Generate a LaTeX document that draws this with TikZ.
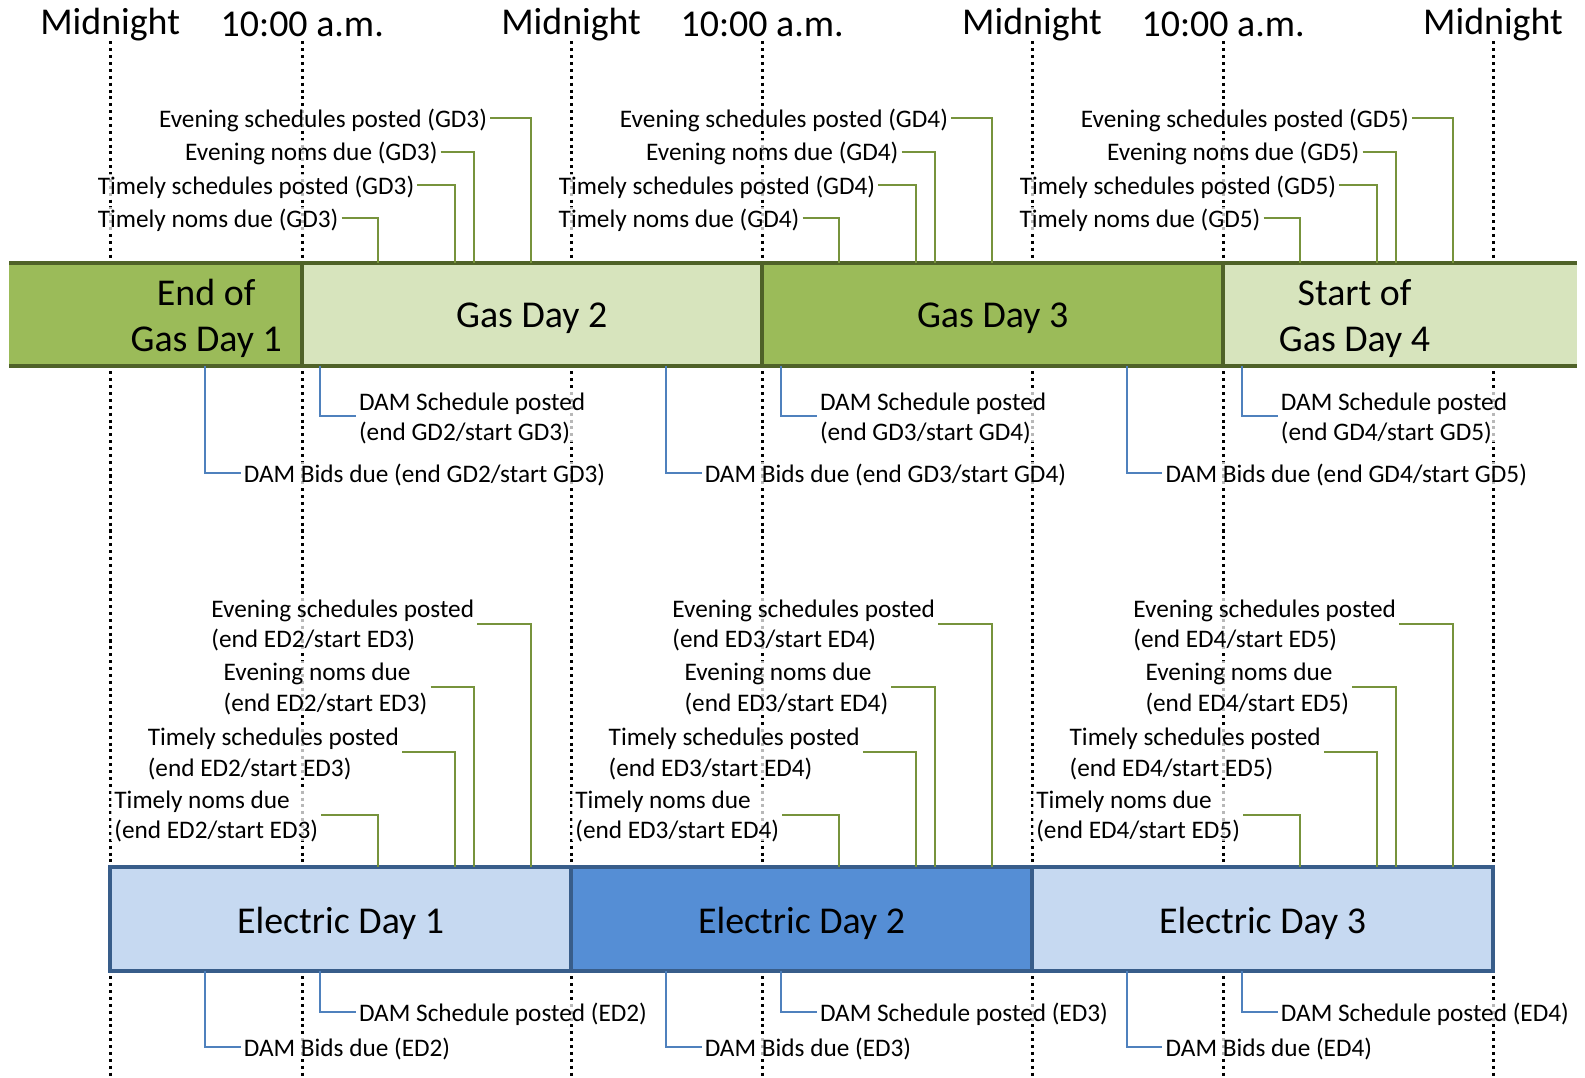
\documentclass[tikz,border=0pt]{standalone}
\usepackage{fontspec}
\setmainfont{Carlito}
\definecolor{gasdark}{HTML}{9BBB59}
\definecolor{gaslight}{HTML}{D7E4BD}
\definecolor{gasedge}{HTML}{4F6228}
\definecolor{gasline}{HTML}{77933C}
\definecolor{elight}{HTML}{C6D9F1}
\definecolor{emid}{HTML}{558ED5}
\definecolor{eedge}{HTML}{385D8A}
\definecolor{damline}{HTML}{4F81BD}

\begin{document}
\begin{tikzpicture}[x=1pt,y=-1pt,
    lbl/.style={font=\fontsize{25}{30}\selectfont, inner ysep=2pt, inner xsep=3pt,
        text depth=0pt, fill=white, fill opacity=.72, text opacity=1, align=left},
    hdr/.style={font=\fontsize{37.5}{45}\selectfont, inner sep=1pt},
    day/.style={font=\fontsize{37.5}{45}\selectfont, align=center},
    gline/.style={gasline, line width=2pt},
    bline/.style={damline, line width=2pt},
    tick/.style={dash pattern=on 3pt off 3.8pt, line width=3pt}]
\useasboundingbox (0,0) rectangle (1568,1066);

% time axis
\foreach \t/\lab [count=\i] in {109/Midnight,299/10:00 a.m.,565/Midnight,754/10:00 a.m.,
    1021/Midnight,1210/10:00 a.m.,1477/Midnight} {
  \node[hdr] (hd\i) at (\t,24) {\lab};
  \draw[tick] (\t,41) -- (\t,1066);
}

% gas days
\fill[gasdark] (9,260) rectangle (299,362);
\fill[gaslight] (299,260) rectangle (754,362);
\fill[gasdark] (754,260) rectangle (1210,362);
\fill[gaslight] (1210,260) rectangle (1560,362);
\draw[gasedge, line width=4pt] (9,260) -- (1560,260) (9,362) -- (1560,362);
\foreach \x in {299,754,1210} \draw[gasedge, line width=4pt] (\x,260) -- (\x,362);
\node[day] (gd1) at (204,315) {End of\\Gas Day 1};
\node[day] (gd2) at (526,315) {Gas Day 2};
\node[day] (gd3) at (982,315) {Gas Day 3};
\node[day] (gd4) at (1340,315) {Start of\\Gas Day 4};

% electric days
\foreach \x/\c [count=\n] in {109/elight,565/emid,1021/elight} {
  \draw[eedge, line width=4pt, fill=\c] (\x,858) rectangle ++(456,103);
  \node[day] (ed\n) at (\x+228,913) {Electric Day \n};
}

% deadlines
\foreach \k/\ea/\eb in {0/2/3,1/3/4,2/4/5} {
  \pgfmathsetmacro\o{456*\k}
  % gas nominations
  \foreach \n/\ex/\tx/\y/\txt in {esp/485/525/117/Evening schedules posted,
      enm/436/469/150/Evening noms due, tsp/413/450/183/Timely schedules posted,
      tnm/338/374/216/Timely noms due} {
    \node[lbl, anchor=east] (\n\k) at (\o+\ex,\y) {\txt\ (GD\eb)};
    \coordinate (\n\k-bar) at (\o+\tx,260);
    \draw[gline] (\n\k.east) -| (\n\k-bar);
  }
  \node[lbl, anchor=west] (dsp\k) at (\o+352,412) {DAM Schedule posted\\(end GD\ea/start GD\eb)};
  \node[lbl, anchor=west] (dbd\k) at (\o+238,468) {DAM Bids due (end GD\ea/start GD\eb)};
  \coordinate (dsp\k-bar) at (\o+317,362);
  \coordinate (dbd\k-bar) at (\o+203,362);
  \draw[bline] (dsp\k-bar) |- (dsp\k.west);
  \draw[bline] (dbd\k-bar) |- (dbd\k.west);
  % electric nominations
  \foreach \n/\lx/\tx/\y/\txt in {xesp/206/525/617/Evening schedules posted,
      xenm/218/469/680/Evening noms due, xtsp/143/450/744/Timely schedules posted,
      xtnm/110/374/806/Timely noms due} {
    \node[lbl, anchor=west] (\n\k) at (\o+\lx,\y) {\txt\\(end ED\ea/start ED\eb)};
    \coordinate (\n\k-bar) at (\o+\tx,858);
    \draw[gline] (\n\k.east) -| (\n\k-bar);
  }
  \node[lbl, anchor=west] (xdsp\k) at (\o+352,1001) {DAM Schedule posted (ED\ea)};
  \node[lbl, anchor=west] (xdbd\k) at (\o+238,1036) {DAM Bids due (ED\ea)};
  \coordinate (xdsp\k-bar) at (\o+317,961);
  \coordinate (xdbd\k-bar) at (\o+203,961);
  \draw[bline] (xdsp\k-bar) |- (xdsp\k.west);
  \draw[bline] (xdbd\k-bar) |- (xdbd\k.west);
}
\end{tikzpicture}
\end{document}
